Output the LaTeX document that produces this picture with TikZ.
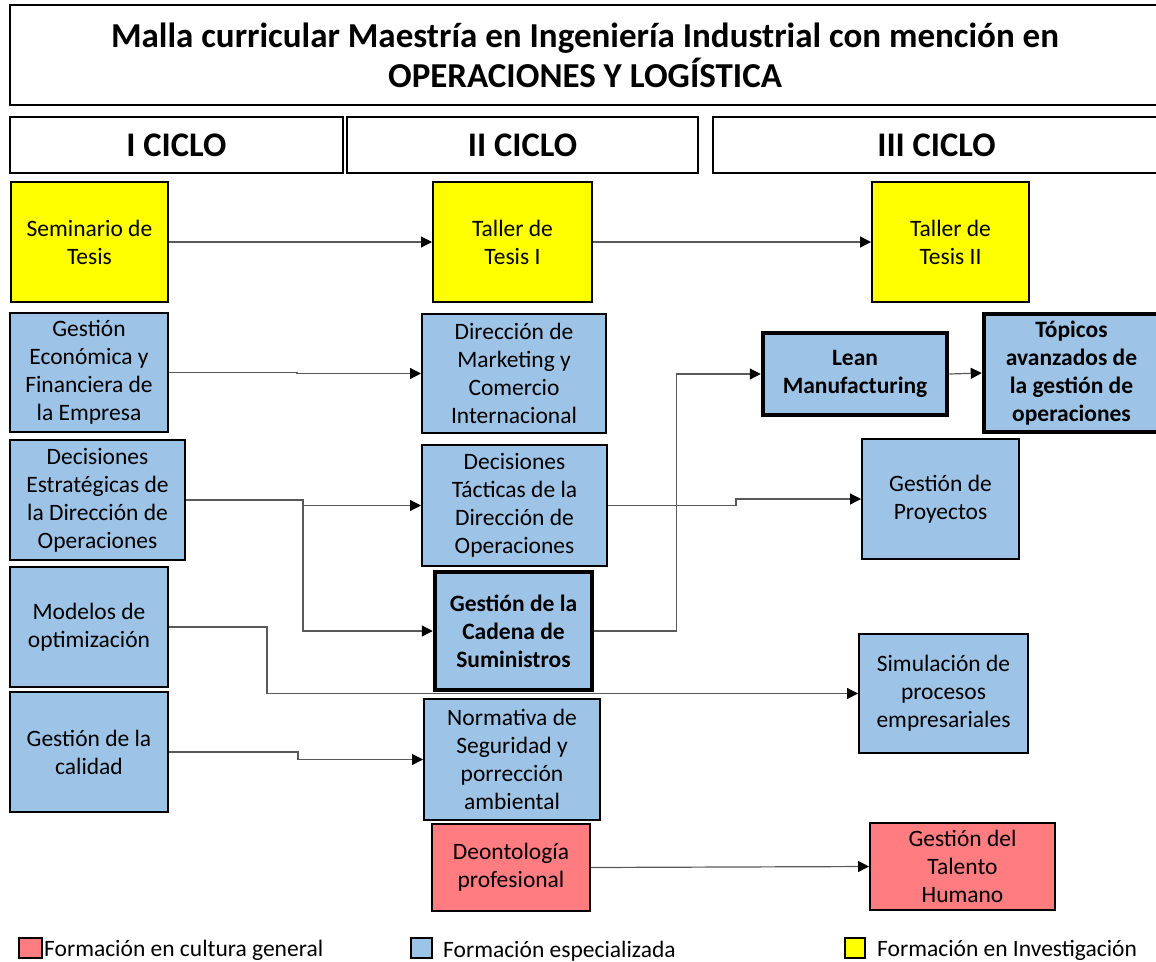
\documentclass[tikz,border=0pt]{standalone}
\usepackage{fontspec}
\setmainfont{Carlito}
\usetikzlibrary{arrows.meta}
\definecolor{cblue}{HTML}{9DC3E6}
\definecolor{cyellow}{HTML}{FFFF00}
\definecolor{cred}{HTML}{FF7C80}
\tikzset{
  box/.style={draw=black, line width=2pt, inner sep=0pt, align=center,
    font=\fontsize{23.5}{28}\selectfont},
  thickbox/.style={box, line width=4.5pt, font=\fontsize{23.5}{28}\selectfont\bfseries},
  head/.style={draw=black, line width=1.5pt, fill=white, inner sep=0pt, align=center},
  conn/.style={draw=black!65, line width=1.2pt, -{Triangle[length=11pt,width=11pt,color=black]}},
  legsq/.style={draw=black, line width=2pt, inner sep=0pt},
  legtxt/.style={anchor=base west, inner sep=0pt, font=\fontsize{23.5}{28}\selectfont}
}
\begin{document}
\begin{tikzpicture}[x=1pt,y=-1pt]
\useasboundingbox (0,0) rectangle (1156,961);
\fill[white] (0,0) rectangle (1156,961);
% headers
\node[head, minimum width=1150pt, minimum height=100pt, font=\fontsize{35}{40}\selectfont\bfseries] (title) at (585,55)
  {Malla curricular Maestría en Ingeniería Industrial con mención en\\OPERACIONES Y LOGÍSTICA};
\node[head, minimum width=333pt, minimum height=56pt, font=\fontsize{34.5}{40}\selectfont\bfseries] (c1) at (176.5,145) {I CICLO};
\node[head, minimum width=351pt, minimum height=56pt, font=\fontsize{34.5}{40}\selectfont\bfseries] (c2) at (522.5,145) {II CICLO};
\node[head, minimum width=447pt, minimum height=56pt, font=\fontsize{34.5}{40}\selectfont\bfseries] (c3) at (936.5,145) {III CICLO};
% yellow
\node[box, fill=cyellow, minimum width=157pt, minimum height=120pt] (sem) at (89.5,242) {Seminario de\\Tesis};
\node[box, fill=cyellow, minimum width=159pt, minimum height=120pt] (t1) at (512.5,242) {Taller de\\Tesis I};
\node[box, fill=cyellow, minimum width=157pt, minimum height=120pt] (t2) at (950.5,242) {Taller de\\Tesis II};
% column 1
\node[box, fill=cblue, minimum width=158pt, minimum height=119pt] (gef) at (89,372.5) {Gestión\\Económica y\\Financiera de\\la Empresa};
\node[box, fill=cblue, minimum width=175pt, minimum height=120pt] (dedo) at (97.5,500) {Decisiones\\Estratégicas de\\la Dirección de\\Operaciones};
\node[box, fill=cblue, minimum width=158pt, minimum height=120pt] (mod) at (89,627) {Modelos de\\optimización};
\node[box, fill=cblue, minimum width=158pt, minimum height=120pt] (cal) at (89,752) {Gestión de la\\calidad};
% column 2
\node[box, fill=cblue, minimum width=184pt, minimum height=119pt] (mkt) at (514,373.5) {Dirección de\\Marketing y\\Comercio\\Internacional};
\node[box, fill=cblue, minimum width=185pt, minimum height=121pt] (tac) at (514.5,505.5) {Decisiones\\Tácticas de la\\Dirección de\\Operaciones};
\node[thickbox, fill=cblue, minimum width=157pt, minimum height=118pt] (cad) at (513.5,631) {Gestión de la\\Cadena de\\Suministros};
\node[box, fill=cblue, minimum width=176pt, minimum height=121pt] (nor) at (512,759.5) {Normativa de\\Seguridad y\\porrección\\ambiental};
\node[box, fill=cred, minimum width=158pt, minimum height=87pt] (deo) at (511,867.5) {Deontología\\profesional};
% column 3
\node[thickbox, fill=cblue, minimum width=184pt, minimum height=82pt] (lean) at (855,374) {Lean\\Manufacturing};
\node[thickbox, fill=cblue, minimum width=175pt, minimum height=118pt] (top) at (1071.5,373) {Tópicos\\avanzados de\\la gestión de\\operaciones};
\node[box, fill=cblue, minimum width=157pt, minimum height=120pt] (proy) at (940.5,499) {Gestión de\\Proyectos};
\node[box, fill=cblue, minimum width=169pt, minimum height=119pt] (sim) at (943.5,693.5) {Simulación de\\procesos\\empresariales};
\node[box, fill=cred, minimum width=185pt, minimum height=87pt] (tal) at (962.5,866.5) {Gestión del\\Talento\\Humano};
% connectors
\draw[conn] (sem) -- (t1);
\draw[conn] (t1) -- (t2);
\draw[conn] (gef.east) -- ++(128,0) |- (mkt.west);
\draw[conn] (dedo.east) -- ++(117,0) |- (tac.west);
\draw[conn] (dedo.east) -- ++(117,0) |- (cad.west);
\draw[conn] (mod.east) -- ++(98,0) |- (sim.west);
\draw[conn] (cal.east) -- ++(129,0) |- (nor.west);
\draw[conn] (cad.east) -- ++(82,0) |- (lean.west);
\draw[conn] (tac.east) -- ++(128,0) |- (proy.west);
\draw[conn] (lean.east) -- (top.west);
\draw[conn] (deo.east) -- (tal.west);
% legend
\node[legsq, fill=cred, minimum width=23pt, minimum height=20pt] (lr) at (30.5,948) {};
\node[legtxt] (ltr) at (44,956) {Formación en cultura general};
\node[legsq, fill=cblue, minimum width=21pt, minimum height=20pt] (lb) at (421,948) {};
\node[legtxt] (ltb) at (443,957) {Formación especializada};
\node[legsq, fill=cyellow, minimum width=20pt, minimum height=20pt] (ly) at (855,948) {};
\node[legtxt] (lty) at (877,956) {Formación en Investigación};
\end{tikzpicture}
\end{document}
